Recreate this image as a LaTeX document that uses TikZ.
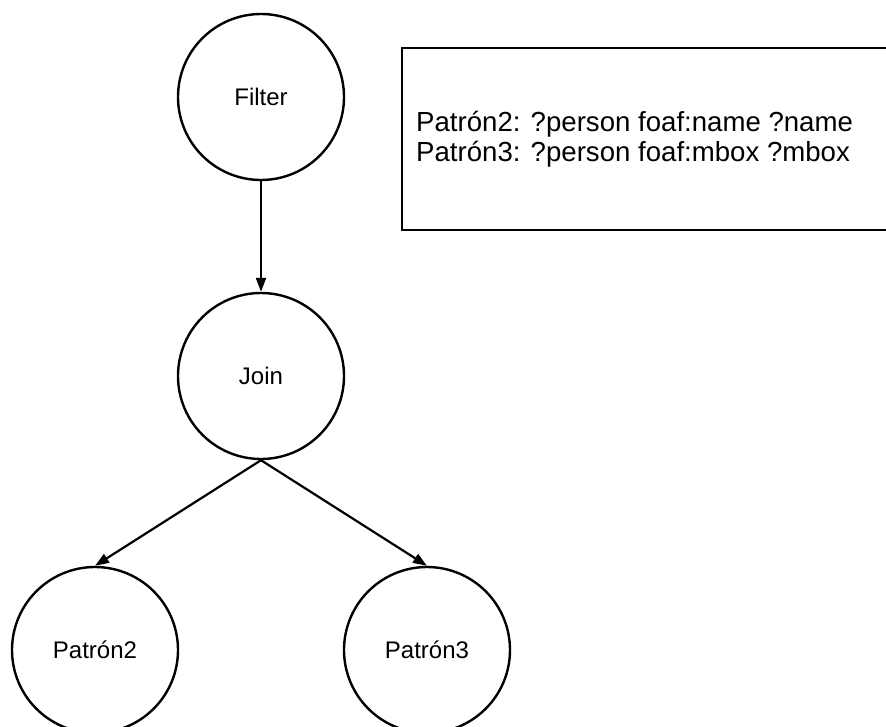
\documentclass[tikz,border=0pt]{standalone}
\usepackage{fontspec}
\setmainfont{Liberation Sans}
\usetikzlibrary{arrows.meta}
\begin{document}
\begin{tikzpicture}[x=1pt,y=-1pt,
  opnode/.style={circle,draw=black,line width=2.4pt,minimum size=166pt,inner sep=0pt,
    font=\fontsize{24}{28}\selectfont},
  conn/.style={line width=2.2pt,-{Triangle[length=14pt,width=10pt]}},
  infobox/.style={draw=black,line width=2.4pt}]
\clip (0,0) rectangle (886,727);
\fill[white] (0,0) rectangle (886,727);
\node[opnode] (filter) at (261,97) {Filter};
\node[opnode] (join) at (261,376) {Join};
\node[opnode] (p2) at (95,650) {Patrón2};
\node[opnode] (p3) at (427,650) {Patrón3};
\draw[infobox] (402,48) rectangle (900,230);
\node[anchor=base west,font=\fontsize{27.6}{30}\selectfont,inner sep=0pt] (l1) at (416,132) {Patrón2: ?person foaf:name ?name};
\node[anchor=base west,font=\fontsize{27.6}{30}\selectfont,inner sep=0pt] (l2) at (416,162) {Patrón3: ?person foaf:mbox ?mbox};
\draw[conn] (filter.south) -- (join.north);
\draw[conn] (join.south) -- (p2.north);
\draw[conn] (join.south) -- (p3.north);
\end{tikzpicture}
\end{document}
